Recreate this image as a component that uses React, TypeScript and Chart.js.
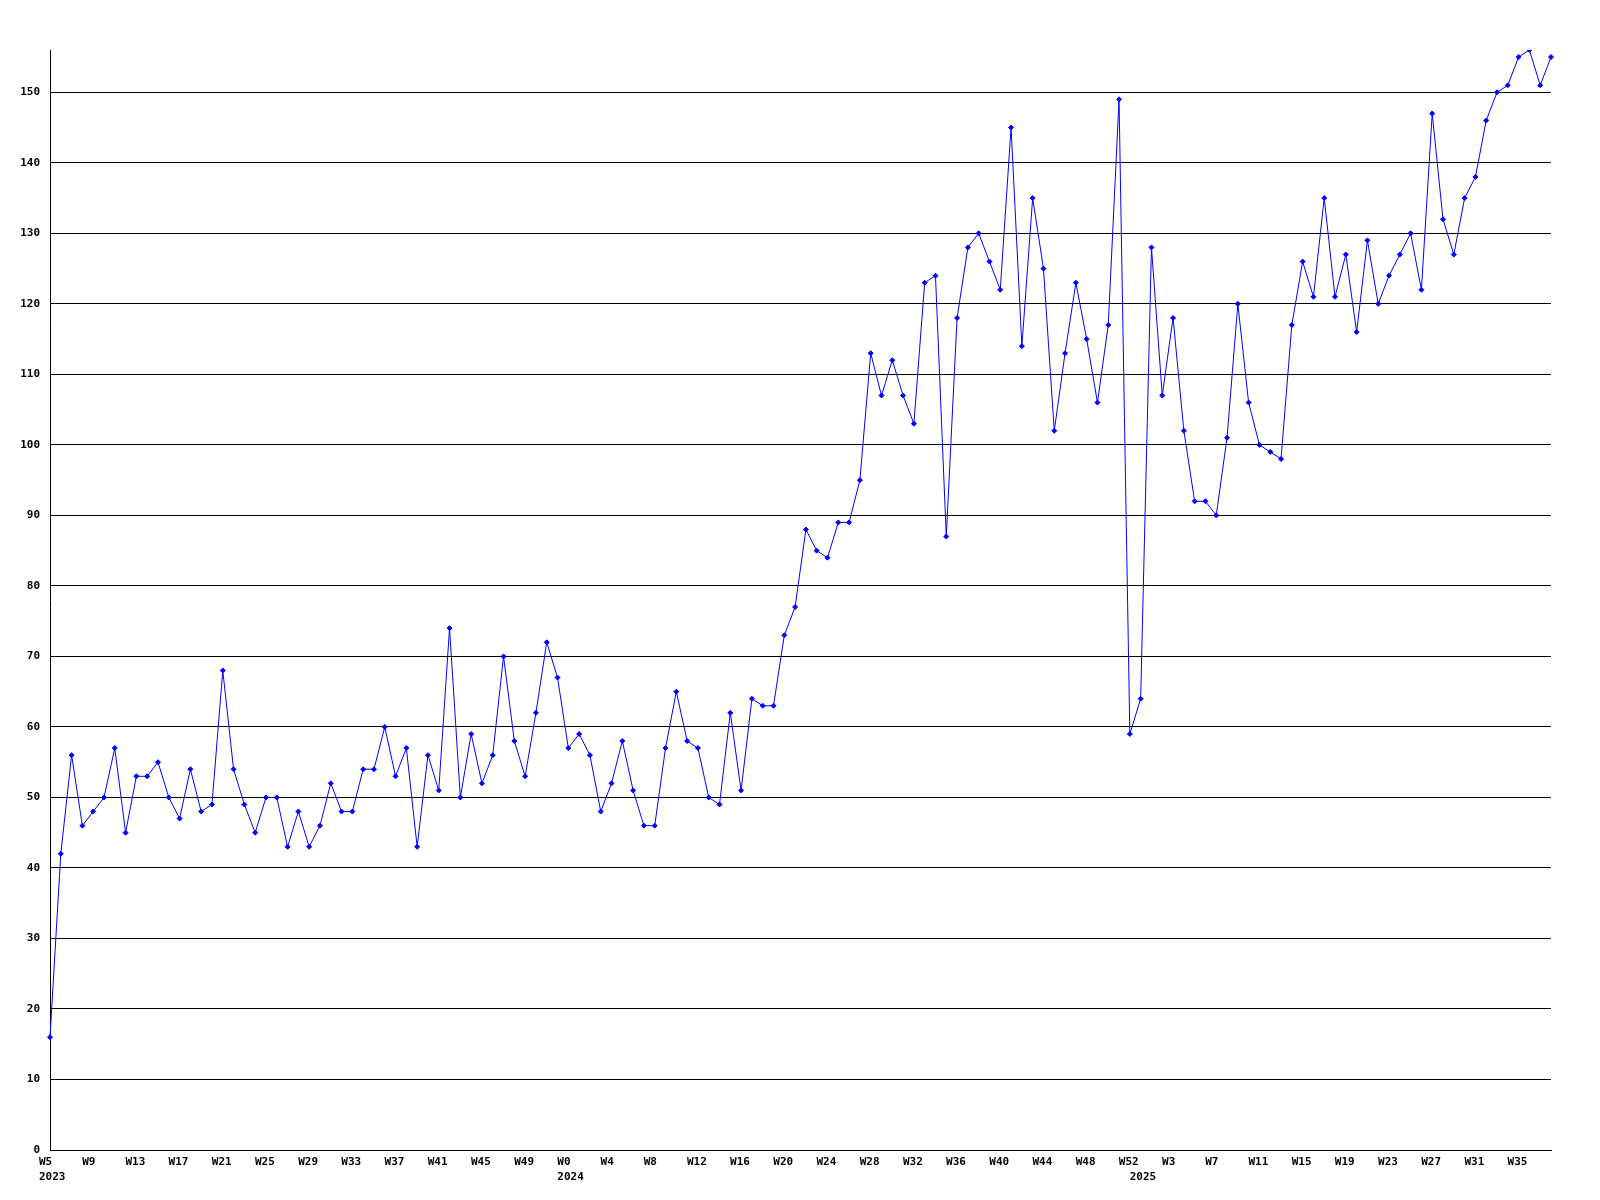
import React, { useEffect, useRef } from 'react';
import { Chart, registerables } from 'chart.js';

Chart.register(...registerables);

// Week ranges per year (categories)
const years = [2023, 2024, 2025];
const firstWeeks = [5, 0, 0];
const lastWeeks = [52, 52, 38];

// Series values, one per week
const values = [
  16, 42, 56, 46, 48, 50, 57, 45, 53, 53, 55, 50, 47, 54, 48, 49, 68, 54, 49, 45,
  50, 50, 43, 48, 43, 46, 52, 48, 48, 54, 54, 60, 53, 57, 43, 56, 51, 74, 50, 59,
  52, 56, 70, 58, 53, 62, 72, 67, 57, 59, 56, 48, 52, 58, 51, 46, 46, 57, 65, 58,
  57, 50, 49, 62, 51, 64, 63, 63, 73, 77, 88, 85, 84, 89, 89, 95, 113, 107, 112, 107,
  103, 123, 124, 87, 118, 128, 130, 126, 122, 145, 114, 135, 125, 102, 113, 123, 115, 106, 117, 149,
  59, 64, 128, 107, 118, 102, 92, 92, 90, 101, 120, 106, 100, 99, 98, 117, 126, 121, 135, 121,
  127, 116, 129, 120, 124, 127, 130, 122, 147, 132, 127, 135, 138, 146, 150, 151, 155, 156, 151, 155,
];

// Axis settings
const yMin = 0;
const yMax = 156;
const yStep = 10;
const xLabelEvery = 4;

const weekLabels: string[] = [];
const weekYears: number[] = [];
years.forEach((yr, i) => {
  for (let w = firstWeeks[i]; w <= lastWeeks[i]; w++) {
    weekLabels.push('W' + w);
    weekYears.push(yr);
  }
});

const tickFont = { family: '"DejaVu Sans Mono", monospace', size: 11, weight: 'bold' as const, lineHeight: 1.35 };

export default function App() {
  const canvasRef = useRef<HTMLCanvasElement | null>(null);

  useEffect(() => {
    if (!canvasRef.current) return;
    const chart = new Chart(canvasRef.current, {
      type: 'line',
      data: {
        labels: weekLabels,
        datasets: [
          {
            data: values,
            borderColor: '#0000ff',
            backgroundColor: '#0000ff',
            borderWidth: 1,
            pointStyle: 'rectRot',
            pointRadius: 2.5,
            pointBorderWidth: 1,
            pointBorderColor: '#0000ff',
            pointBackgroundColor: '#0000ff',
            tension: 0,
            fill: false,
          },
        ],
      },
      options: {
        responsive: false,
        animation: false,
        layout: { padding: { top: 50, right: 49, bottom: 0, left: 0 } },
        plugins: {
          legend: { display: false },
          tooltip: { enabled: false },
        },
        scales: {
          x: {
            type: 'category',
            offset: false,
            grid: { display: false, drawTicks: false },
            border: { display: true, color: '#000000', width: 1 },
            ticks: {
              autoSkip: false,
              maxRotation: 0,
              minRotation: 0,
              align: 'start',
              labelOffset: -11,
              padding: 5,
              color: '#000000',
              font: tickFont,
              callback: (_v: any, index: number) => {
                const showWeek = index % xLabelEvery === 0;
                const showYear = index === 0 || weekYears[index - 1] !== weekYears[index];
                if (!showWeek && !showYear) return null;
                if (showYear) return [showWeek ? weekLabels[index] : '', String(weekYears[index])];
                return weekLabels[index];
              },
            },
            afterFit: (scale: any) => {
              scale.height = 50;
            },
          },
          y: {
            min: yMin,
            max: yMax,
            grid: { display: true, color: '#000000', lineWidth: 1, drawTicks: false },
            border: { display: true, color: '#000000', width: 1 },
            ticks: {
              stepSize: yStep,
              includeBounds: false,
              padding: 10,
              color: '#000000',
              font: tickFont,
            },
            afterFit: (scale: any) => {
              scale.width = 50;
            },
          },
        },
      },
    } as any);
    return () => chart.destroy();
  }, []);

  return (
    <div style={{ position: 'absolute', left: 0, top: 0, width: 1600, height: 1200, background: '#ffffff' }}>
      <canvas ref={canvasRef} width={1600} height={1200} style={{ display: 'block', width: 1600, height: 1200 }} />
    </div>
  );
}
